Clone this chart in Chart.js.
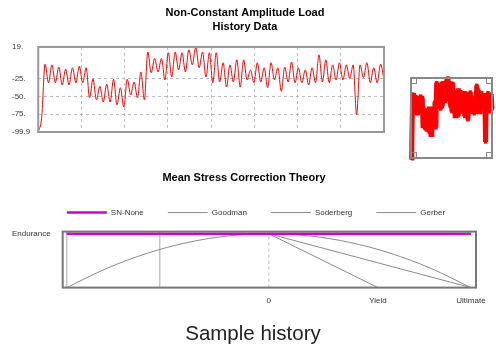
<!DOCTYPE html>
<html><head><meta charset="utf-8">
<script src="https://cdn.jsdelivr.net/npm/chart.js@4/dist/chart.umd.min.js"></script>
<style>
html,body{margin:0;padding:0;background:#fff;width:496px;height:349px;overflow:hidden}
.c{position:absolute}
</style></head><body>
<canvas id="top" class="c" width="496" height="145" style="left:0;top:0"></canvas>
<canvas id="mini" class="c" width="94" height="96" style="left:402px;top:69px"></canvas>
<canvas id="bottom" class="c" width="496" height="189" style="left:0;top:160px"></canvas>
<script>
// ---------- data ----------
const topTitle = ['Non-Constant Amplitude Load', 'History Data'];
const history = [
  -99.9, -80,
  -5, -31, -6, -31, -9, -34, -12, -34, -10, -31, -8, -31, -10,
  -52, -26, -55, -36, -58, -33, -58, -26, -62, -38, -65, -26, -48, -30, -52, -16, -55, 12, -17, 3,
  -16, 3, -27, 11, -23, 12, -13, 11, -16, 15, -6, 19, -10, 12, -23, 11, -31, 11, -30, -3, -37, -6, -30, 1, -37, 1, -27, -13, -31, -3, -30, -10, -38, -3,
  -27, -10, -43, -9, -30, -2, -31, -10, -31, -13, -34, -10, -31, 8, -30, 1, -31, -6, -27, -3, -27, -6, -25, -6, -76, -6, -24, -3, -31, -10, -31, -5, -27
];
const yTickValues = [19, -25, -50, -75, -99.9];
const yTickLabels = ['19.', '-25.', '-50.', '-75.', '-99.9'];
const xGridDivisions = 8;

const bottomTitle = 'Mean Stress Correction Theory';
const caption = 'Sample history';
const seriesNames = ['SN-None', 'Goodman', 'Soderberg', 'Gerber'];
const snNoneX = [-1, 1];
const snNoneY = [1, 1];
const goodmanX = [-1, 0, 1];
const goodmanY = [1, 1, 0];
const soderbergX = [-1, 0, 0.54];
const soderbergY = [1, 1, 0];
const gerberX = [-1, -0.8, -0.6, -0.4, -0.2, 0, 0.2, 0.4, 0.6, 0.8, 1];
const gerberY = [0, 0.36, 0.64, 0.84, 0.96, 1, 0.96, 0.84, 0.64, 0.36, 0];
const solidRefX = [-1, -0.54];
const dashedRefX = [0];
const meanTickValues = [0, 0.54, 1];
const meanTickLabels = ['0', 'Yield', 'Ultimate'];
const ampTickValues = [1];
const ampTickLabels = ['Endurance'];

// ---------- helpers ----------
Chart.defaults.font.family = "'Liberation Sans', Arial, Helvetica, sans-serif";
Chart.defaults.color = '#333';
const pts = (xs, ys) => xs.map((x, i) => ({x, y: ys[i]}));
const frame = {
  id: 'frame',
  afterDatasetsDraw(chart, args, o) {
    const a = chart.chartArea, ctx = chart.ctx;
    ctx.save();
    ctx.strokeStyle = o.color; ctx.lineWidth = o.width;
    ctx.strokeRect(a.left, a.top, a.right - a.left, a.bottom - a.top);
    if (o.corners) {
      const s = o.corners;
      ctx.lineWidth = 1;
      ctx.strokeRect(a.left + 0.5, a.top + 0.5, s, s);
      ctx.strokeRect(a.right - s - 0.5, a.top + 0.5, s, s);
      ctx.strokeRect(a.left + 0.5, a.bottom - s - 0.5, s, s);
      ctx.strokeRect(a.right - s - 0.5, a.bottom - s - 0.5, s, s);
    }
    ctx.restore();
  }
};
// extra legend height and horizontal offsets for title / subtitle / legend blocks
const boxTweak = {
  id: 'boxTweak',
  beforeLayout(chart, args, o) {
    const lg = chart.legend;
    if (lg && !lg._gap) {
      lg._gap = true;
      const f = lg.fit;
      lg.fit = function () { f.call(this); this.height += (o.legendExtra || 0); };
    }
  },
  afterLayout(chart, args, o) {
    const mv = (b, dx) => { if (b && dx) { b.left += dx; b.right += dx; } };
    mv(chart.legend, o.legend);
    mv(chart.titleBlock, o.title);
    const subText = chart.options.plugins.subtitle && chart.options.plugins.subtitle.text;
    const sub = chart.boxes.find(b => b !== chart.titleBlock && b.options && b.options.text === subText);
    mv(sub, o.subtitle);
  }
};

// ---------- top history chart ----------
const histPts = history.map((v, i) => ({x: i, y: v}));
const yMin = Math.min(...yTickValues), yMax = Math.max(...yTickValues);
new Chart(document.getElementById('top'), {
  type: 'line',
  data: { datasets: [{ data: histPts, borderColor: '#ff0000', borderWidth: 1, pointRadius: 0, cubicInterpolationMode: 'monotone' }] },
  options: {
    responsive: false, animation: false, events: [],
    layout: { padding: { left: 12, right: 112, top: 0, bottom: 13 } },
    plugins: {
      legend: { display: false }, tooltip: { enabled: false },
      title: { display: true, text: topTitle, color: '#000', font: { size: 11, weight: 'bold', lineHeight: 1.3 }, padding: { top: 5.5, bottom: 12.9 } },
      frame: { color: '#999', width: 2 },
      boxTweak: { title: 47 }
    },
    scales: {
      x: {
        type: 'linear', min: 0, max: history.length - 1,
        afterBuildTicks: ax => { ax.ticks = Array.from({length: xGridDivisions + 1}, (_, k) => ({value: k * (history.length - 1) / xGridDivisions})); },
        ticks: { display: false }, grid: { color: '#bbb', drawTicks: false }, border: { display: false, dash: [3, 3] }
      },
      y: {
        min: yMin, max: yMax,
        afterBuildTicks: ax => { ax.ticks = yTickValues.map(v => ({value: v})); },
        ticks: { callback: (v, i) => yTickLabels[i], font: { size: 8 }, color: '#333', crossAlign: 'far', padding: 4, autoSkip: false },
        grid: { color: '#bbb', drawTicks: false }, border: { display: false, dash: [3, 3] }
      }
    }
  },
  plugins: [frame, boxTweak]
});

// ---------- mini overview ----------
new Chart(document.getElementById('mini'), {
  type: 'line',
  data: { datasets: [{ data: histPts, borderColor: '#ff0000', backgroundColor: '#ff0000', borderWidth: 5, pointRadius: 2.5, pointStyle: 'rect', pointBorderWidth: 0, clip: 4 }] },
  options: {
    responsive: false, animation: false, events: [],
    layout: { padding: { left: 9, right: 2, top: 9, bottom: 7 } },
    plugins: { legend: { display: false }, tooltip: { enabled: false }, frame: { color: '#888', width: 2, corners: 5 } },
    scales: { x: { type: 'linear', display: false, min: 0, max: history.length - 1 }, y: { display: false, min: yMin, max: yMax } }
  },
  plugins: [frame]
});

// ---------- bottom mean stress chart ----------
const ampMax = 1.04;
const grey = '#8a8a8a';
const refSets = [
  ...solidRefX.map(x => ({ isRef: true, data: pts([x, x], [0, ampMax]), borderColor: '#c4c4c4', borderWidth: 1.5, pointRadius: 0 })),
  ...dashedRefX.map(x => ({ isRef: true, data: pts([x, x], [0, ampMax]), borderColor: '#b8b8b8', borderWidth: 1, borderDash: [3, 3], pointRadius: 0 }))
];
new Chart(document.getElementById('bottom'), {
  type: 'line',
  data: {
    datasets: [
      { label: seriesNames[0], data: pts(snNoneX, snNoneY), borderColor: '#cc00cc', borderWidth: 2.5, pointRadius: 0 },
      { label: seriesNames[1], data: pts(goodmanX, goodmanY), borderColor: grey, borderWidth: 1, pointRadius: 0 },
      { label: seriesNames[2], data: pts(soderbergX, soderbergY), borderColor: grey, borderWidth: 1, pointRadius: 0 },
      { label: seriesNames[3], data: pts(gerberX, gerberY), borderColor: grey, borderWidth: 1, pointRadius: 0, cubicInterpolationMode: 'monotone' },
      ...refSets
    ]
  },
  options: {
    responsive: false, animation: false, events: [],
    layout: { padding: { left: 12, right: 20, top: 0, bottom: 0 } },
    plugins: {
      tooltip: { enabled: false },
      title: { display: true, text: bottomTitle, color: '#000', font: { size: 11, weight: 'bold', lineHeight: 1.2 }, padding: { top: 11.4, bottom: 0 } },
      subtitle: { display: true, text: caption, position: 'bottom', color: '#222', font: { size: 20.5, weight: 'normal' }, padding: { top: 9.2, bottom: 2 } },
      legend: {
        position: 'top',
        labels: {
          filter: (item, data) => !data.datasets[item.datasetIndex].isRef,
          usePointStyle: true, pointStyle: 'line', pointStyleWidth: 40,
          padding: 24, color: '#333', font: { size: 8 }
        }
      },
      boxTweak: { legendExtra: 5, legend: 12, subtitle: 9 },
      frame: { color: '#777', width: 2 }
    },
    scales: {
      x: {
        type: 'linear', min: -1.02, max: 1.025,
        afterBuildTicks: ax => { ax.ticks = meanTickValues.map(v => ({value: v})); },
        ticks: { callback: (v, i) => meanTickLabels[i], font: { size: 8 }, color: '#333', padding: 8, autoSkip: false, maxRotation: 0 },
        grid: { display: false, drawTicks: false }, border: { display: false }
      },
      y: {
        min: 0, max: ampMax,
        afterBuildTicks: ax => { ax.ticks = ampTickValues.map(v => ({value: v})); },
        ticks: { callback: (v, i) => ampTickLabels[i], font: { size: 8 }, color: '#333', crossAlign: 'far', padding: 6, autoSkip: false },
        grid: { display: false, drawTicks: false }, border: { display: false }
      }
    }
  },
  plugins: [frame, boxTweak]
});
</script>
</body></html>
